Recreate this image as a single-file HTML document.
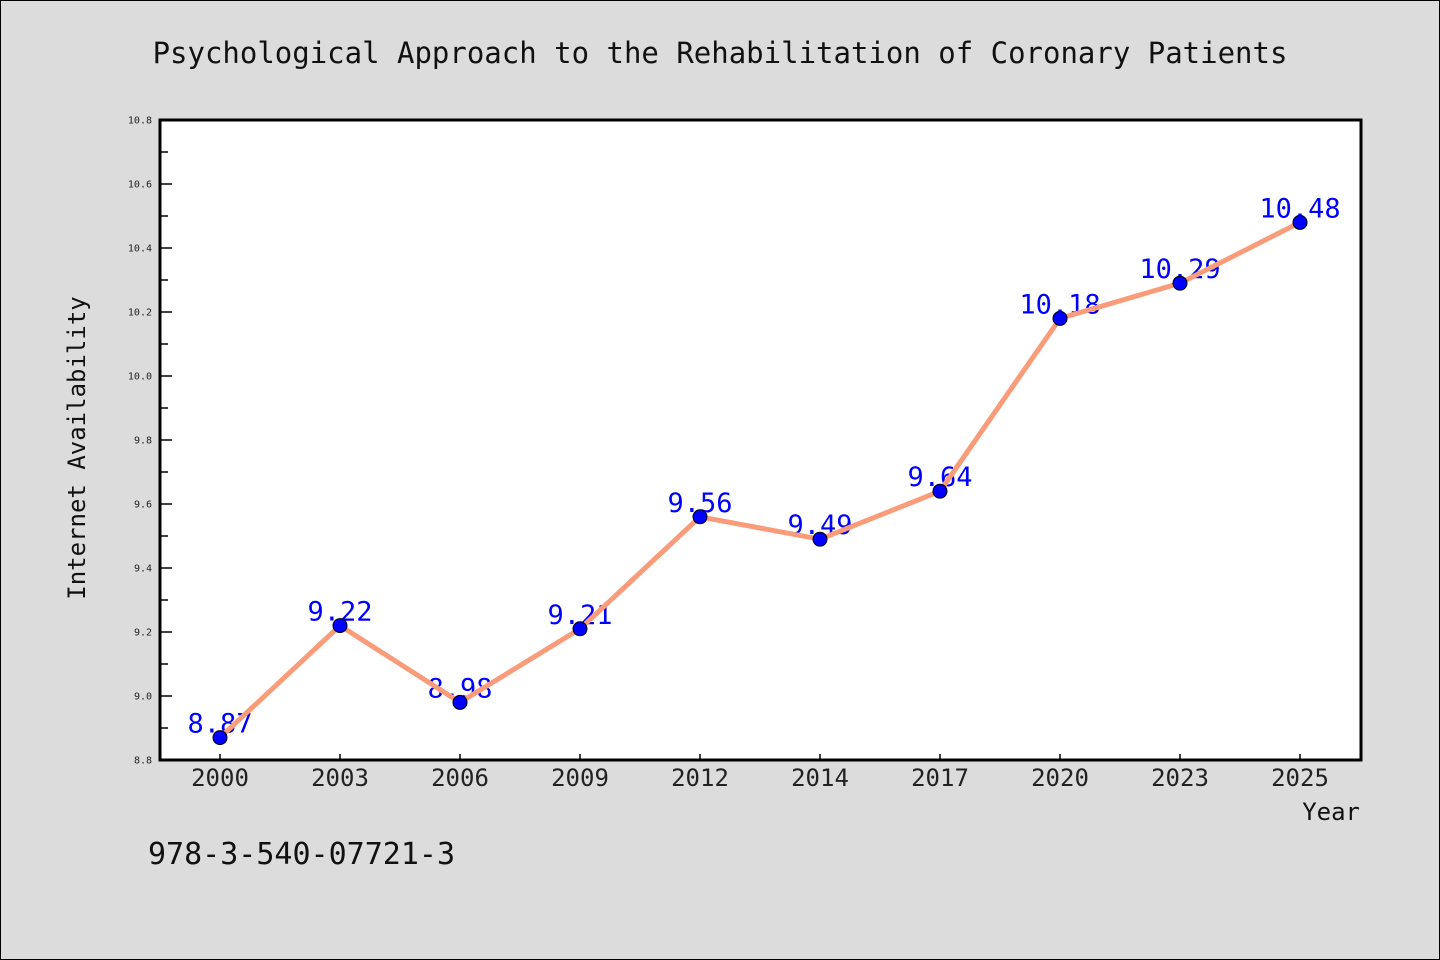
<!DOCTYPE html>
<html><head><meta charset="utf-8"><style>
body{margin:0;background:#dcdcdc;}
svg{display:block;font-family:"WenQuanYi Zen Hei Mono","WenQuanYi Zen Hei","DejaVu Sans Mono",monospace;}
</style></head><body>
<svg id="chart" width="1440" height="960">
<rect x="0.5" y="0.5" width="1439" height="959" fill="#dcdcdc" stroke="#000"/>
<text x="720" y="63" text-anchor="middle" font-size="29" fill="#111">Psychological Approach to the Rehabilitation of Coronary Patients</text>
<rect x="160" y="120" width="1201" height="640" fill="#fff"/>
<g id="yticks"></g><g id="xticks"></g>
<g id="labels"></g>
<polyline id="line" fill="none" stroke="#fa9c7a" stroke-width="5" stroke-linejoin="round"/>
<g id="points"></g>
<rect x="160" y="120" width="1201" height="640" fill="none" stroke="#000" stroke-width="3"/>
<text transform="translate(85,448) rotate(-90)" text-anchor="middle" font-size="24" fill="#111">Internet Availability</text>
<text x="1360" y="820" text-anchor="end" font-size="24" fill="#111">Year</text>
<text x="148" y="864" font-size="30" fill="#111">978-3-540-07721-3</text>
</svg>
<script>
const categories=["2000","2003","2006","2009","2012","2014","2017","2020","2023","2025"];
const values=[8.87,9.22,8.98,9.21,9.56,9.49,9.64,10.18,10.29,10.48];
const valueLabels=["8.87","9.22","8.98","9.21","9.56","9.49","9.64","10.18","10.29","10.48"];
const yTicks=["8.8","9.0","9.2","9.4","9.6","9.8","10.0","10.2","10.4","10.6","10.8"];
const yMin=8.8,yMax=10.8;
const NS="http://www.w3.org/2000/svg";
const y=v=>760-(v-yMin)/(yMax-yMin)*640;
const x=i=>220+i*120;
function mk(t,a,p){const e=document.createElementNS(NS,t);for(const k in a)e.setAttribute(k,a[k]);p.appendChild(e);return e;}
const yt=document.getElementById('yticks');
yTicks.forEach(s=>{const v=parseFloat(s);const yy=y(v);
 const l=mk('line',{x1:160,x2:172,y1:yy,y2:yy,stroke:'#000','stroke-width':1.5},yt);
 
 
 const t=mk('text',{x:152,y:yy+3.5,'text-anchor':'end','font-size':10,fill:'#222'},yt);t.textContent=s;
 
 
 if(v<yMax){const ym=y(v+0.1);const m=mk('line',{x1:160,x2:168,y1:ym,y2:ym,stroke:'#000','stroke-width':1.5},yt);
 
 }
});
const xt=document.getElementById('xticks');
categories.forEach((c,i)=>{
 const l=mk('line',{x1:x(i),x2:x(i),y1:760,y2:754,stroke:'#000','stroke-width':1.5},xt);
 
 
 const t=mk('text',{x:x(i),y:786,'text-anchor':'middle','font-size':24,fill:'#222'},xt);t.textContent=c;
 
 
});
const lb=document.getElementById('labels');
values.forEach((v,i)=>{const t=mk('text',{x:x(i),y:y(v)-5,'text-anchor':'middle','font-size':27,fill:'#0000ff'},lb);t.textContent=valueLabels[i];
 
 });
document.getElementById('line').setAttribute('points',values.map((v,i)=>x(i)+','+y(v)).join(' '));
const pg=document.getElementById('points');
values.forEach((v,i)=>{const c=mk('circle',{cx:x(i),cy:y(v),r:7,fill:'#0000ff',stroke:'#000','stroke-width':1},pg);
 
 });
</script>
</body></html>
